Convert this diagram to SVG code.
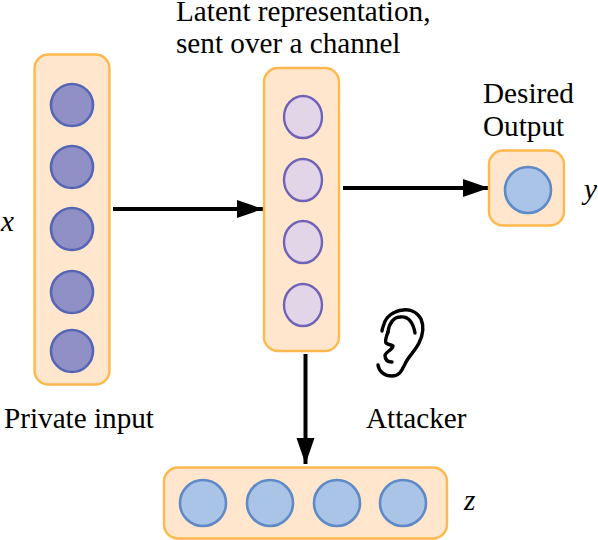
<svg xmlns="http://www.w3.org/2000/svg" width="598" height="540" viewBox="0 0 598 540">
<style>
.box{fill:#ffe6cc;stroke:#ffb84d;stroke-width:2.4}
.p{fill:#9090c6;stroke:#5566b5;stroke-width:2.6}
.l{fill:#e1d5e7;stroke:#6f63b8;stroke-width:2.4}
.b{fill:#a9c4e6;stroke:#5f8ac7;stroke-width:2.6}
.t{font-family:"Liberation Serif",serif;font-size:29.2px;fill:#000}
.v{font-family:"Liberation Serif",serif;font-size:29.2px;font-style:italic;fill:#000}
.c{fill:none;stroke:#000;stroke-width:4}
.e{fill:none;stroke:#000;stroke-width:3.4;stroke-linecap:round;stroke-linejoin:round}
</style>
<defs><marker id="a" markerUnits="userSpaceOnUse" markerWidth="28" markerHeight="20" refX="26" refY="9" orient="auto"><path d="M0 0L26 9L0 18Z" fill="#000"/></marker></defs>
<rect width="598" height="540" fill="#fff"/>
<g id="connectors">
<path class="c" d="M113 209H263" marker-end="url(#a)"/>
<path class="c" d="M343 188H489" marker-end="url(#a)"/>
<path class="c" d="M305.500 354V464" marker-end="url(#a)"/>
</g>
<g id="input"><rect class="box" x="34.500" y="54.500" width="75" height="330" rx="14"/>
<circle class="p" cx="72" cy="105" r="21"/><circle class="p" cx="72" cy="167" r="21"/><circle class="p" cx="72" cy="229" r="21"/><circle class="p" cx="72" cy="292" r="21"/><circle class="p" cx="72" cy="351" r="21"/></g>
<g id="latent"><rect class="box" x="264" y="68" width="75" height="283" rx="14"/>
<ellipse class="l" cx="303" cy="117" rx="19" ry="21"/><ellipse class="l" cx="303" cy="180" rx="19" ry="21"/><ellipse class="l" cx="303" cy="242" rx="19" ry="21"/><ellipse class="l" cx="303" cy="305" rx="19" ry="21"/></g>
<g id="output"><rect class="box" x="489" y="150.500" width="75" height="75" rx="14"/><circle class="b" cx="528" cy="190" r="23"/></g>
<g id="bottom"><rect class="box" x="164" y="467.500" width="283" height="71" rx="14"/>
<circle class="b" cx="203" cy="503" r="23"/><circle class="b" cx="270" cy="503" r="23"/><circle class="b" cx="337" cy="503" r="23"/><circle class="b" cx="403" cy="503" r="23"/></g>
<g id="ear"><path class="e" d="M378 365C379 372 385 376 392 376C400 376 402 370 405 364C408 357 415 351 419 343C423 335 424 326 421 319C417 312 410 309 403 310C393 311 386 317 384 324C383 327 382 329 382 331"/>
<path class="e" d="M388 332C389 323 394 317 400 317C408 316 413 322 415 333"/>
<path class="e" d="M388 332C386 337 385 341 386 343C389 345 392 345 393 346C392 350 386 352 385 355C385 360 388 362 392 362"/></g>
<g id="labels">
<text class="t" x="176" y="21">Latent representation,</text>
<text class="t" x="176" y="53">sent over a channel</text>
<text class="t" x="483" y="103">Desired</text>
<text class="t" x="483" y="136">Output</text>
<text class="t" x="4" y="428">Private input</text>
<text class="t" x="366" y="428">Attacker</text>
<text class="v" x="1" y="231">x</text>
<text class="v" x="584" y="199">y</text>
<text class="v" x="464" y="510">z</text>
</g>
</svg>
